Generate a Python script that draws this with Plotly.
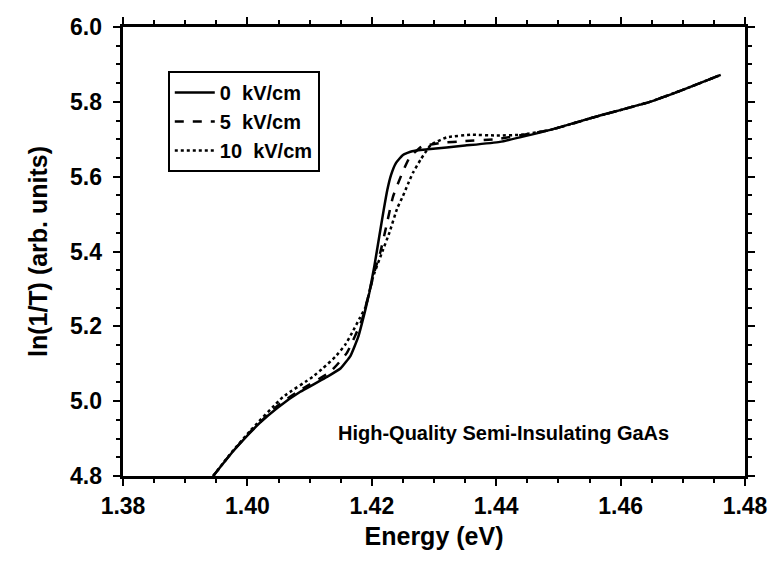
import plotly.graph_objects as go

# 0 kV/cm
x0 = [1.3945, 1.3975, 1.4004, 1.4020, 1.4048, 1.4085, 1.4128, 1.4150, 1.4166, 1.4178, 1.4189, 1.4196,
      1.4204, 1.4212, 1.4219, 1.4225, 1.4231, 1.4239, 1.4250, 1.4265, 1.4290, 1.4350,
      1.4406, 1.4487, 1.4560, 1.4647, 1.4700, 1.4761]
y0 = [4.800, 4.862, 4.915, 4.942, 4.982, 5.025, 5.065, 5.088, 5.122, 5.171, 5.240, 5.290,
      5.360, 5.440, 5.510, 5.565, 5.605, 5.637, 5.658, 5.668, 5.673, 5.683,
      5.693, 5.725, 5.760, 5.800, 5.832, 5.872]

# 5 kV/cm
x5 = [1.3945, 1.3975, 1.4004, 1.4050, 1.4085, 1.4133, 1.4160, 1.4184, 1.4205, 1.4214, 1.4223,
      1.4234, 1.4249, 1.4261, 1.4280, 1.4310, 1.4350, 1.4400, 1.4487, 1.4560, 1.4647, 1.4700, 1.4761]
y5 = [4.800, 4.863, 4.917, 4.990, 5.030, 5.078, 5.129, 5.217, 5.350, 5.400, 5.465,
      5.546, 5.610, 5.652, 5.680, 5.690, 5.695, 5.700, 5.725, 5.760, 5.800, 5.832, 5.872]

# 10 kV/cm
x10 = [1.3945, 1.3975, 1.4004, 1.4057, 1.4105, 1.4122, 1.4141, 1.4157, 1.4168, 1.4180, 1.4190,
       1.4202, 1.4217, 1.4228, 1.4241, 1.4250, 1.4258, 1.4266, 1.4279, 1.4295, 1.4320, 1.4360,
       1.4400, 1.4440, 1.4487, 1.4560, 1.4647, 1.4700, 1.4761]
y10 = [4.800, 4.864, 4.920, 5.011, 5.065, 5.089, 5.118, 5.150, 5.182, 5.220, 5.252,
       5.332, 5.400, 5.449, 5.516, 5.548, 5.580, 5.610, 5.647, 5.685, 5.705, 5.712,
       5.710, 5.712, 5.725, 5.760, 5.800, 5.832, 5.872]

series_names = ["0\u00a0\u00a0kV/cm", "5\u00a0\u00a0kV/cm", "10\u00a0\u00a0kV/cm"]
dashes = ["solid", "dash", "dot"]

FONT = "Liberation Sans, Arial, sans-serif"

fig = go.Figure()
for xs, ys, nm, ds in zip([x0, x5, x10], [y0, y5, y10], series_names, dashes):
    fig.add_trace(go.Scatter(x=xs, y=ys, mode="lines", name=nm,
                             line=dict(color="black", width=2.5, dash=ds, shape="spline", smoothing=0.4)))

tickfont = dict(family=FONT, size=23, color="black", weight="bold")

fig.update_xaxes(range=[1.38, 1.48], tickmode="linear", tick0=1.38, dtick=0.02, tickformat=".2f",
                 showgrid=False, zeroline=False, showline=True, linecolor="black", linewidth=3,
                 mirror="allticks", ticks="outside", ticklen=7, tickwidth=2, tickcolor="black",
                 tickfont=tickfont,
                 minor=dict(dtick=0.005, ticks="outside", ticklen=4, tickwidth=2, tickcolor="black"),
                 title=dict(text="Energy (eV)", font=dict(family=FONT, size=25, color="black", weight="bold"),
                            standoff=10))
fig.update_yaxes(range=[4.8, 6.0], tickmode="linear", tick0=4.8, dtick=0.2, tickformat=".1f",
                 showgrid=False, zeroline=False, showline=True, linecolor="black", linewidth=3,
                 mirror="allticks", ticks="outside", ticklen=7, tickwidth=2, tickcolor="black",
                 minor=dict(dtick=0.05, ticks="outside", ticklen=4, tickwidth=2, tickcolor="black"),
                 tickfont=tickfont, ticksuffix="\u00a0",
                 title=dict(text="ln(1/T) (arb. units)", font=dict(family=FONT, size=25, color="black", weight="bold"),
                            standoff=16))

fig.add_annotation(x=1.4411, y=4.915, xref="x", yref="y", text="High-Quality Semi-Insulating GaAs",
                   showarrow=False, font=dict(family=FONT, size=20, color="black", weight="bold"))

fig.update_layout(
    template="none",
    width=773, height=561,
    margin=dict(l=123, r=28, t=27, b=85),
    paper_bgcolor="white", plot_bgcolor="white",
    showlegend=True,
    legend=dict(x=0.072, y=0.902, xanchor="left", yanchor="top",
                bgcolor="white", bordercolor="black", borderwidth=2,
                font=dict(family=FONT, size=20, color="black", weight="bold"),
                tracegroupgap=0, itemwidth=40),
)

fig.write_html("out.html")
